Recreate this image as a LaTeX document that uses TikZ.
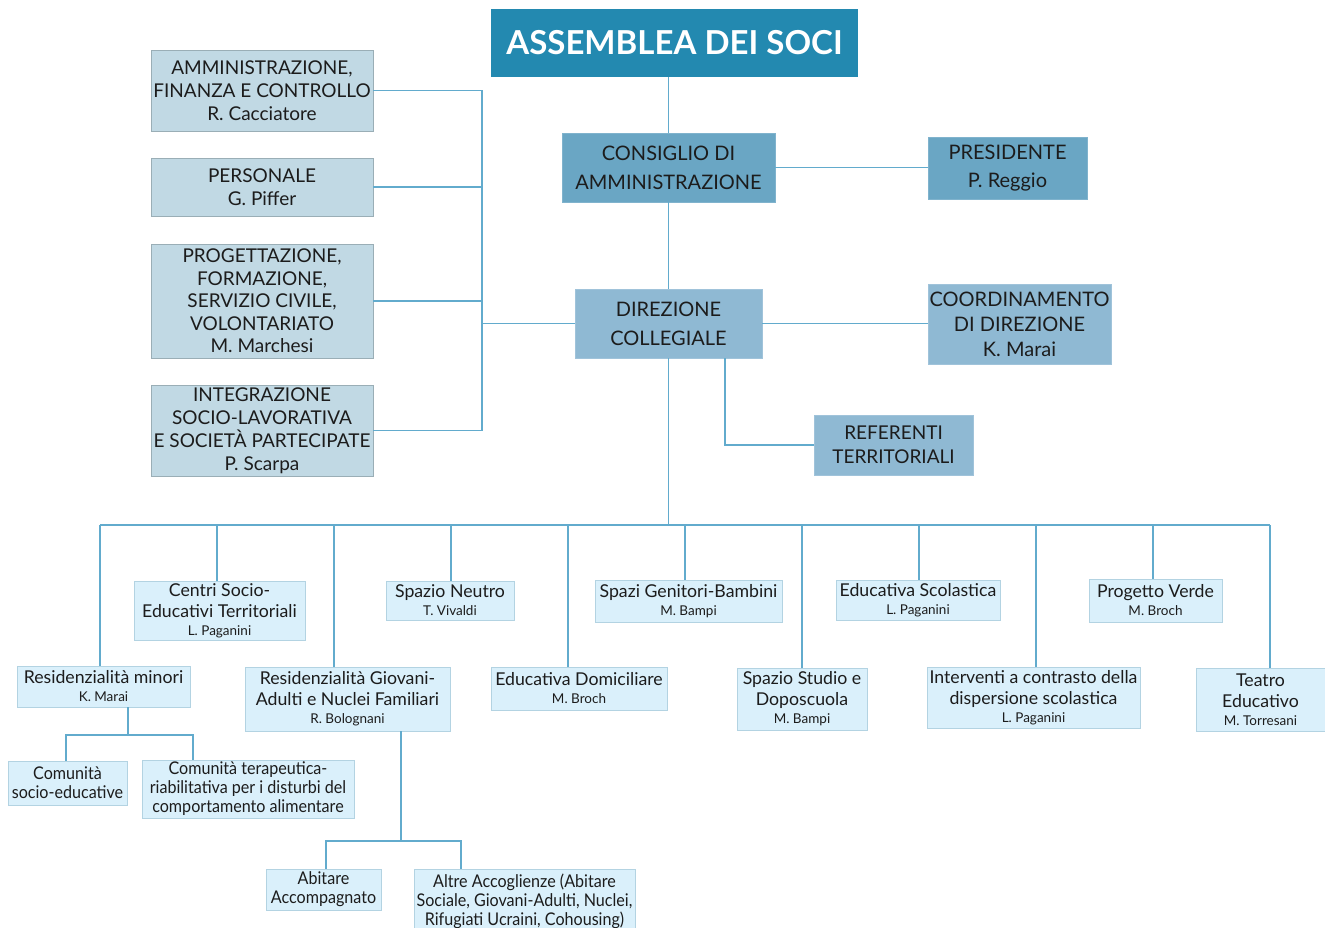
\documentclass[tikz,border=0pt]{standalone}
\usepackage{fontspec}
\setmainfont{Lato}
\newfontfamily\condf[FakeStretch=0.92]{Lato}
\usetikzlibrary{calc}
\definecolor{cA}{HTML}{2389B0}
\definecolor{cB}{HTML}{6AA6C4}
\definecolor{cC}{HTML}{8FB9D3}
\definecolor{cD}{HTML}{C1D9E4}
\definecolor{cE}{HTML}{DAF0FB}
\definecolor{cEb}{HTML}{B3D3E2}
\definecolor{cLine}{HTML}{62ABCD}
\definecolor{cTxt}{HTML}{1C1C1C}
\newcommand\szTop{\fontsize{20}{29}\selectfont}
\newcommand\szLeft{\fontsize{19}{23}\selectfont}
\newcommand\szBot{\fontsize{17.7}{21}\selectfont}
\newcommand\szSub{\condf\fontsize{17.5}{19}\selectfont}
\newcommand\nmS[1]{{\fontsize{13.5}{15}\selectfont #1}}
\tikzset{
  box/.style={rectangle, align=center, inner sep=0pt, text=cTxt},
  lvA/.style={box, fill=cA, text=white, font=\fontsize{33}{36}\selectfont\bfseries},
  lvB/.style={box, fill=cB, draw=cB!85!white, line width=0.8pt, font=\szTop},
  lvC/.style={box, fill=cC, draw=cC!85!white, line width=0.8pt, font=\szTop},
  lvD/.style={box, fill=cD, draw=cD!80!black, line width=0.8pt, font=\szLeft},
  lvE/.style={box, fill=cE, draw=cEb, line width=0.9pt, font=\szBot},
  lvF/.style={box, fill=cE, draw=cEb, line width=0.9pt, font=\szSub},
  conn/.style={draw=cLine, line width=1.1pt}
}
\begin{document}
\begin{tikzpicture}[x=1pt,y=-1pt]
\useasboundingbox (0,0) rectangle (1325,928);
\fill[white] (0,0) rectangle (1325,928);

% top levels
\node[lvA, minimum width=367pt, minimum height=68pt] (assemblea) at (674.5,43) {ASSEMBLEA DEI SOCI};
\node[lvB, minimum width=213pt, minimum height=69pt] (consiglio) at (668.5,167.5) {CONSIGLIO DI\\AMMINISTRAZIONE};
\node[lvB, minimum width=159pt, minimum height=62pt, font=\fontsize{20}{28}\selectfont] (presidente) at (1007.5,168) {PRESIDENTE\\P. Reggio};
\node[lvC, minimum width=187pt, minimum height=69pt] (direz) at (668.5,323.5) {DIREZIONE\\COLLEGIALE};
\node[lvC, minimum width=183pt, minimum height=80pt, font=\fontsize{20}{25}\selectfont] (coord) at (1019.5,324) {COORDINAMENTO\\DI DIREZIONE\\K. Marai};
\node[lvC, minimum width=159pt, minimum height=60pt, font=\fontsize{19}{24}\selectfont] (refer) at (893.5,445) {REFERENTI\\TERRITORIALI};

% left column
\node[lvD, minimum width=222pt, minimum height=81pt] (amm) at (262,90.5) {AMMINISTRAZIONE,\\FINANZA E CONTROLLO\\R. Cacciatore};
\node[lvD, minimum width=222pt, minimum height=58pt] (pers) at (262,187) {PERSONALE\\G. Piffer};
\node[lvD, minimum width=222pt, minimum height=114pt, font=\fontsize{19}{22.5}\selectfont] (prog) at (262,301) {PROGETTAZIONE,\\FORMAZIONE,\\SERVIZIO CIVILE,\\VOLONTARIATO\\M. Marchesi};
\node[lvD, minimum width=222pt, minimum height=91pt] (integ) at (262,430.5) {INTEGRAZIONE\\SOCIO-LAVORATIVA\\E SOCIET\`A PARTECIPATE\\P. Scarpa};

% bottom row 1
\node[lvE, minimum width=171pt, minimum height=59pt] (centri) at (219.5,610.5) {Centri Socio-\\Educativi Territoriali\\[-3pt]\nmS{L. Paganini}};
\node[lvE, minimum width=128pt, minimum height=39pt] (neutro) at (450,600.5) {Spazio Neutro\\[-3pt]\nmS{T. Vivaldi}};
\node[lvE, minimum width=187pt, minimum height=42pt] (genitori) at (688.5,601) {Spazi Genitori-Bambini\\[-3pt]\nmS{M. Bampi}};
\node[lvE, minimum width=164pt, minimum height=40pt] (edscol) at (918,600) {Educativa Scolastica\\[-3pt]\nmS{L. Paganini}};
\node[lvE, minimum width=133pt, minimum height=43pt] (verde) at (1155.5,600.5) {Progetto Verde\\[-3pt]\nmS{M. Broch}};

% bottom row 2
\node[lvE, minimum width=173pt, minimum height=41pt] (resmin) at (103.5,686.5) {Residenzialit\`a minori\\[-3pt]\nmS{K. Marai}};
\node[lvE, minimum width=205pt, minimum height=64pt] (resgio) at (347.5,699) {Residenzialit\`a Giovani-\\Adulti e Nuclei Familiari\\[-3pt]\nmS{R. Bolognani}};
\node[lvE, minimum width=176pt, minimum height=43pt] (eddom) at (579,688.5) {Educativa Domiciliare\\[-3pt]\nmS{M. Broch}};
\node[lvE, minimum width=130pt, minimum height=62pt] (studio) at (802,699) {Spazio Studio e\\Doposcuola\\[-3pt]\nmS{M. Bampi}};
\node[lvE, minimum width=213pt, minimum height=61pt] (interv) at (1033.5,697.5) {Interventi a contrasto della\\dispersione scolastica\\[-3pt]\nmS{L. Paganini}};
\node[lvE, minimum width=129pt, minimum height=63pt] (teatro) at (1260.5,699.5) {Teatro\\Educativo\\[-3pt]\nmS{M. Torresani}};

% sub levels
\node[lvF, minimum width=119pt, minimum height=44pt] (comsoc) at (67.5,783) {Comunit\`a\\socio-educative};
\node[lvF, minimum width=212pt, minimum height=58pt] (comter) at (248,789) {Comunit\`a terapeutica-\\riabilitativa per i disturbi del\\comportamento alimentare};
\node[lvF, minimum width=115pt, minimum height=41pt] (abitare) at (323.5,889.5) {Abitare\\Accompagnato};
\node[lvF, minimum width=221pt, minimum height=64pt, anchor=north] (altre) at (524.5,869) {Altre Accoglienze (Abitare\\Sociale, Giovani-Adulti, Nuclei,\\Rifugiati Ucraini, Cohousing)};

% connectors top
\draw[conn] (consiglio.north) -- (consiglio.north |- assemblea.south);
\draw[conn] (consiglio.south) -- (direz.north);
\draw[conn] (consiglio.east) -- (consiglio.east -| presidente.west);
\draw[conn] (direz.east) -- (direz.east -| coord.west);
\coordinate (rf) at (725,445);
\draw[conn] (rf |- direz.south) -- (rf) -- (refer.west);

% left bracket
\coordinate (brk) at (482,323.5);
\draw[conn] (amm.east) -- (amm.east -| brk) -- (integ.east -| brk) -- (integ.east);
\draw[conn] (pers.east) -- (pers.east -| brk);
\draw[conn] (prog.east) -- (prog.east -| brk);
\draw[conn] (brk) -- (direz.west);

% bus
\coordinate (bus) at (668.5,525);
\draw[conn] (direz.south) -- (bus);
\coordinate (d1) at (100,525);
\coordinate (d2) at (217,525);
\coordinate (d3) at (334,525);
\coordinate (d4) at (451,525);
\coordinate (d5) at (568,525);
\coordinate (d6) at (685,525);
\coordinate (d7) at (802,525);
\coordinate (d8) at (919,525);
\coordinate (d9) at (1036,525);
\coordinate (d10) at (1153,525);
\coordinate (d11) at (1270,525);
\draw[conn] (d1) -- (d11);
\draw[conn] (d1) -- (d1 |- resmin.north);
\draw[conn] (d2) -- (d2 |- centri.north);
\draw[conn] (d3) -- (d3 |- resgio.north);
\draw[conn] (d4) -- (d4 |- neutro.north);
\draw[conn] (d5) -- (d5 |- eddom.north);
\draw[conn] (d6) -- (d6 |- genitori.north);
\draw[conn] (d7) -- (d7 |- studio.north);
\draw[conn] (d8) -- (d8 |- edscol.north);
\draw[conn] (d9) -- (d9 |- interv.north);
\draw[conn] (d10) -- (d10 |- verde.north);
\draw[conn] (d11) -- (d11 |- teatro.north);

% resmin sub
\coordinate (rm) at (128,735);
\coordinate (rmL) at (66,735);
\coordinate (rmR) at (193,735);
\draw[conn] (rm |- resmin.south) -- (rm);
\draw[conn] (rmL |- comsoc.north) -- (rmL) -- (rmR) -- (rmR |- comter.north);

% resgio sub
\coordinate (rg) at (401,841);
\coordinate (rgL) at (326,841);
\coordinate (rgR) at (461,841);
\draw[conn] (rg |- resgio.south) -- (rg);
\draw[conn] (rgL |- abitare.north) -- (rgL) -- (rgR) -- (rgR |- altre.north);
\end{tikzpicture}
\end{document}
